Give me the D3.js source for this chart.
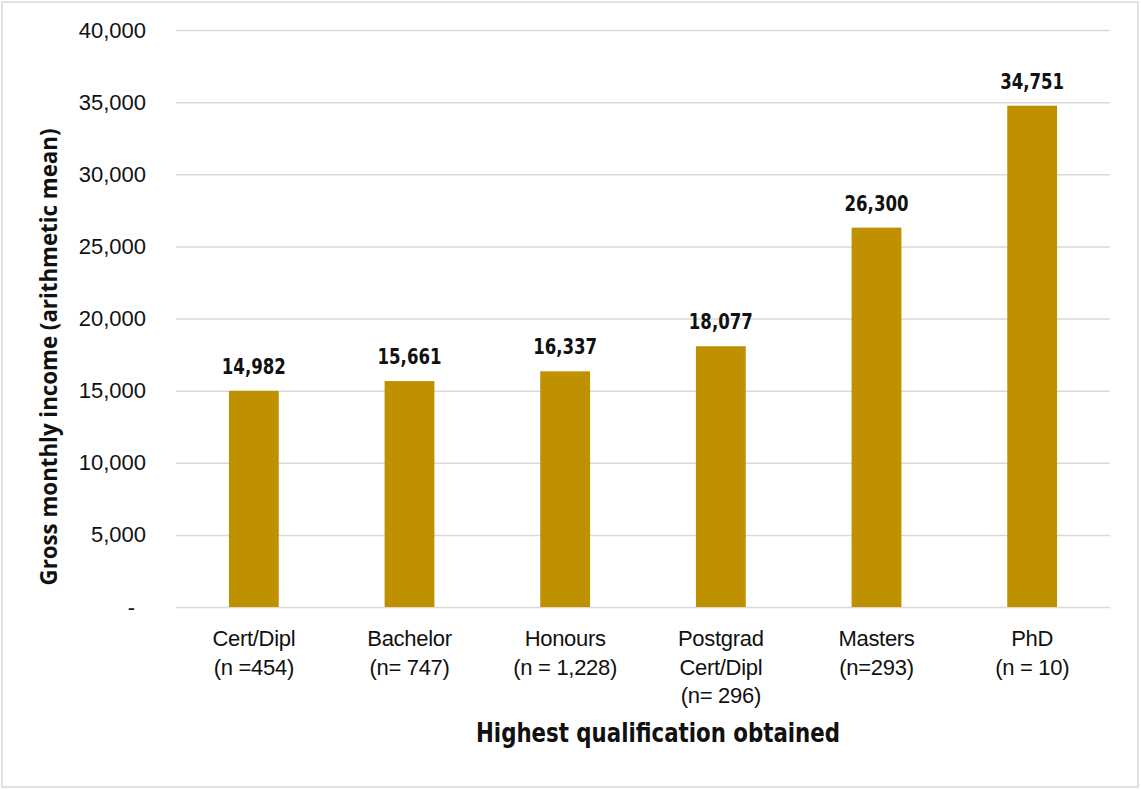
<!DOCTYPE html>
<html>
<head>
<meta charset="utf-8">
<script src="https://cdn.jsdelivr.net/npm/d3@7"></script>
<style>
  html, body { margin: 0; padding: 0; background: #fff; }
  svg { display: block; }
</style>
</head>
<body>
<svg id="chart" width="1141" height="790"></svg>
<script>
// Mean gross monthly income by highest qualification
const categories = [
  ["Cert/Dipl", "(n =454)"],
  ["Bachelor", "(n= 747)"],
  ["Honours", "(n = 1,228)"],
  ["Postgrad", "Cert/Dipl", "(n= 296)"],
  ["Masters", "(n=293)"],
  ["PhD", "(n = 10)"]
];
const incomes = [14982, 15661, 16337, 18077, 26300, 34751];
const yTicks = [0, 5000, 10000, 15000, 20000, 25000, 30000, 35000, 40000];
const yTitle = "Gross monthly income (arithmetic mean)";
const xTitle = "Highest qualification obtained";

const svg = d3.select("#chart");
const W = 1141, H = 790;
const m = { left: 176, right: 31, top: 30, bottom: 183 };
const sans = "Liberation Sans, Arial, sans-serif";
const boldFace = "DejaVu Sans Condensed, DejaVu Sans, sans-serif";

// outer frame
svg.append("rect")
  .attr("x", 2).attr("y", 2).attr("width", W - 5).attr("height", H - 5)
  .attr("fill", "#fff").attr("stroke", "#d9d9d9").attr("stroke-width", 1.5);

const x = d3.scaleBand()
  .domain(categories.map((d, i) => i))
  .range([m.left, W - m.right])
  .paddingInner(0.68).paddingOuter(0.34);

const y = d3.scaleLinear().domain([0, 40000]).range([H - m.bottom, m.top]);

// gridlines + tick labels
const fmt = d3.format(",");
const yAxis = d3.axisLeft(y)
  .tickValues(yTicks)
  .tickSize(-(W - m.right - m.left))
  .tickPadding(30)
  .tickFormat(d => d === 0 ? "-" : fmt(d));

const gy = svg.append("g").attr("transform", `translate(${m.left},0)`).call(yAxis);
gy.select(".domain").remove();
gy.selectAll(".tick line").attr("stroke", "#d9d9d9").attr("stroke-width", 1.5);
gy.selectAll(".tick text")
  .attr("font-family", sans)
  .attr("font-size", 22).attr("fill", "#111");
gy.selectAll(".tick text").filter(d => d === 0).attr("dx", -11);

// bars
svg.append("g").selectAll("rect")
  .data(incomes)
  .join("rect")
  .attr("x", (d, i) => x(i))
  .attr("width", x.bandwidth())
  .attr("y", d => y(d))
  .attr("height", d => y(0) - y(d))
  .attr("fill", "#BF9000");

// value labels
svg.append("g").selectAll("text")
  .data(incomes)
  .join("text")
  .attr("x", (d, i) => x(i) + x.bandwidth() / 2)
  .attr("y", d => y(d) - 17)
  .attr("text-anchor", "middle")
  .attr("font-family", boldFace)
  .attr("font-weight", "bold")
  .attr("font-size", 22)
  .attr("textLength", 64)
  .attr("lengthAdjust", "spacingAndGlyphs")
  .attr("fill", "#111")
  .text(d => fmt(d));

// category labels
const xl = svg.append("g").selectAll("text")
  .data(categories)
  .join("text")
  .attr("x", (d, i) => x(i) + x.bandwidth() / 2)
  .attr("y", 646)
  .attr("text-anchor", "middle")
  .attr("font-family", sans)
  .attr("font-size", 22)
  .attr("letter-spacing", -0.3)
  .attr("fill", "#111");
xl.selectAll("tspan")
  .data((d, i) => d.map(t => ({ t, i })))
  .join("tspan")
  .attr("x", d => x(d.i) + x.bandwidth() / 2)
  .attr("dy", (d, j) => j === 0 ? 0 : 28.5)
  .text(d => d.t);

// axis titles
svg.append("text")
  .attr("x", 658).attr("y", 742)
  .attr("text-anchor", "middle")
  .attr("font-family", boldFace)
  .attr("font-weight", "bold").attr("font-size", 26)
  .attr("textLength", 364)
  .attr("lengthAdjust", "spacingAndGlyphs")
  .attr("fill", "#111")
  .text(xTitle);

svg.append("text")
  .attr("transform", "translate(57,357) rotate(-90)")
  .attr("text-anchor", "middle")
  .attr("font-family", "Open Sans, Noto Sans, sans-serif")
  .attr("font-weight", "bold").attr("font-size", 24)
  .attr("textLength", 457)
  .attr("lengthAdjust", "spacingAndGlyphs")
  .attr("fill", "#111")
  .text(yTitle);
</script>
</body>
</html>
